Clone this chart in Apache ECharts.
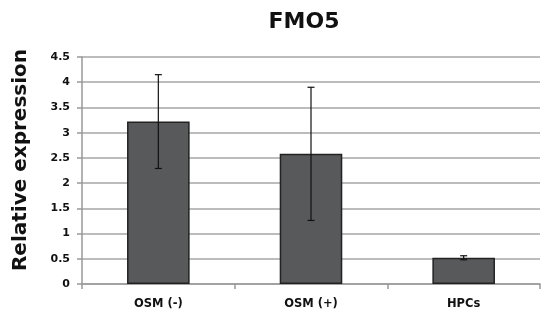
<!DOCTYPE html>
<html><head><meta charset="utf-8">
<script src="https://cdn.jsdelivr.net/npm/echarts@6/dist/echarts.min.js"></script>
<style>html,body{margin:0;padding:0;background:#fff}#c{width:541px;height:313px}</style>
</head><body><div id="c"></div>
<script>
const categories = ['OSM (-)', 'OSM (+)', 'HPCs'];
const values = [3.22, 2.58, 0.52];
const errors = [0.93, 1.32, 0.04];
const yTicks = [0, 0.5, 1, 1.5, 2, 2.5, 3, 3.5, 4, 4.5];

const FONT = 'DejaVu Sans';
const chart = echarts.init(document.getElementById('c'));
const errData = categories.map((c, i) => [i, values[i] - errors[i], values[i] + errors[i]]);
chart.setOption({
  animation: false,
  graphic: [
    { type: 'text', x: 304, y: 22.5, style: { text: 'FMO5', fontFamily: FONT, fontWeight: 'bold', fontSize: 22,
        fill: '#111', align: 'center', verticalAlign: 'middle' } },
    { type: 'text', x: 21, y: 160, rotation: Math.PI / 2, style: { text: 'Relative expression', fontFamily: FONT,
        fontWeight: 'bold', fontSize: 20, fill: '#111', align: 'center', verticalAlign: 'middle' } }
  ],
  grid: { left: 82, right: 1, top: 57, bottom: 29 },
  xAxis: { type: 'category', data: categories,
    axisLine: { lineStyle: { color: '#999', width: 1.5 } },
    axisTick: { show: true, length: 5, lineStyle: { color: '#999', width: 1.5 } },
    axisLabel: { fontFamily: FONT, fontWeight: 'bold', fontSize: 11.5, color: '#111', margin: 14 } },
  yAxis: { type: 'value', min: 0, max: 4.5, interval: 0.5,
    axisLine: { show: true, lineStyle: { color: '#999', width: 1.5 } },
    axisTick: { show: true, length: 5, lineStyle: { color: '#999', width: 1.5 } },
    splitLine: { lineStyle: { color: '#a6a6a6', width: 1.5 } },
    axisLabel: { fontFamily: FONT, fontWeight: 'bold', fontSize: 11, color: '#111', margin: 12,
      formatter: v => yTicks.includes(v) ? String(v) : '' } },
  series: [
    { type: 'bar', data: values, barWidth: '41%',
      itemStyle: { color: '#58595b', borderColor: '#222', borderWidth: 1.5 } },
    { type: 'custom', data: errData, z: 10,
      renderItem: (params, api) => {
        const x = api.value(0);
        const lo = api.coord([x, api.value(1)]);
        const hi = api.coord([x, api.value(2)]);
        const w = 3.5;
        const st = { stroke: '#111', lineWidth: 1.2 };
        return { type: 'group', children: [
          { type: 'line', shape: { x1: lo[0], y1: lo[1], x2: hi[0], y2: hi[1] }, style: st },
          { type: 'line', shape: { x1: lo[0]-w, y1: lo[1], x2: lo[0]+w, y2: lo[1] }, style: st },
          { type: 'line', shape: { x1: hi[0]-w, y1: hi[1], x2: hi[0]+w, y2: hi[1] }, style: st }
        ]};
      } }
  ]
});
</script></body></html>
